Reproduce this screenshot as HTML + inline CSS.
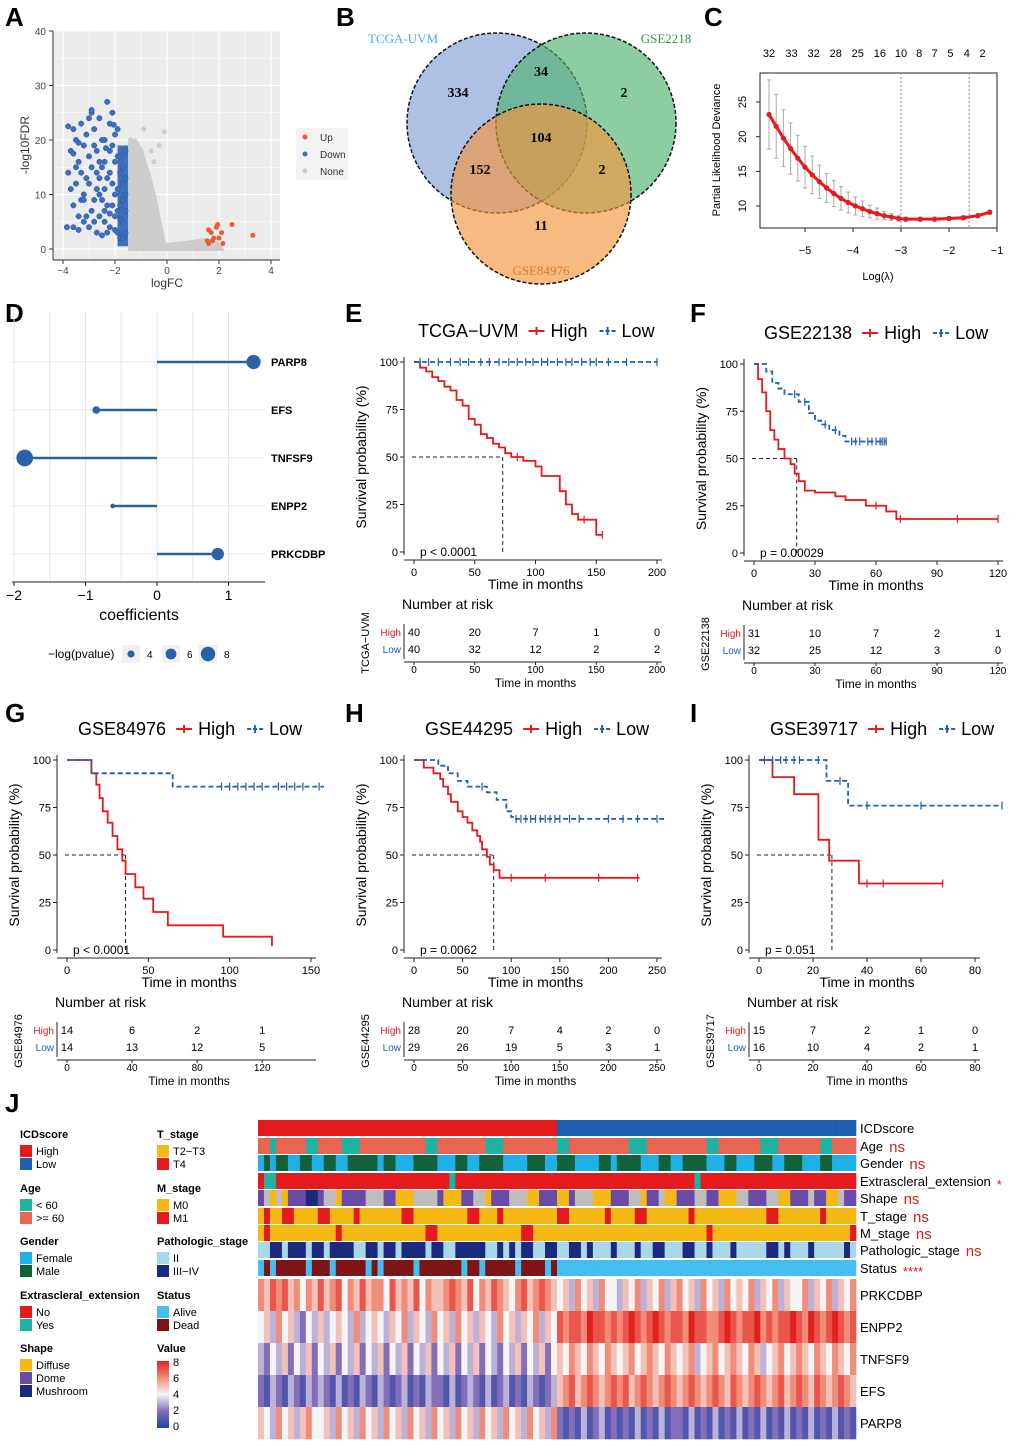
<!DOCTYPE html>
<html><head><meta charset="utf-8"><style>
body{margin:0;background:#fff}
svg{display:block;font-family:"Liberation Sans",Arial,sans-serif}
</style></head><body>
<svg id="fig" xmlns="http://www.w3.org/2000/svg" width="1020" height="1446" viewBox="0 0 1020 1446"></svg>
<script>
// ---------- DATA ----------
const volcanoDown=[[-3.7,18],[-3.6,22],[-3.5,20],[-3.4,16],[-3.3,23],[-3.2,19],[-3.1,21],[-3.0,17],[-2.9,25],[-2.8,22],[-2.7,18],[-2.6,24],[-2.5,20],[-2.4,16],[-2.3,27],[-2.2,23],[-2.1,19],[-2.0,21],[-1.9,17],[-1.8,14],[-1.7,12],[-3.6,8],[-3.4,6],[-3.2,10],[-3.0,12],[-2.8,9],[-2.6,13],[-2.4,11],[-2.2,14],[-2.0,10],[-1.8,8],[-1.7,5],[-3.0,4],[-2.8,5],[-2.6,6],[-2.4,7],[-2.2,4],[-2.0,6],[-1.9,3],[-1.8,2],[-3.8,14],[-3.5,12],[-3.3,14],[-3.1,13],[-2.9,15],[-2.7,14],[-2.5,15],[-2.3,13],[-2.1,12],[-1.9,11],[-2.5,9],[-2.3,8],[-2.1,8],[-1.9,7],[-2.7,11],[-2.9,7],[-3.1,6],[-3.3,9],[-3.5,15],[-3.7,11],[-2.2,18],[-2.4,20],[-2.0,16],[-1.8,17],[-1.7,15],[-2.6,16],[-2.8,19],[-3.0,24],[-2.1,25],[-1.9,22],[-3.85,4],[-3.6,4],[-3.4,3.5],[-3.2,5],[-2.7,3],[-2.5,2.5],[-2.3,3],[-1.6,3],[-1.6,7],[-1.6,10],[-1.6,13],[-1.6,18],[-1.7,9],[-1.7,2],[-2.05,22.8],[-2.9,25.5],[-3.8,22.5],[-3.6,17.5],[-3.4,19.5],[-3.2,9],[-2.4,5],[-2.2,6.5],[-2.0,3.5],[-1.8,5.5],[-2.6,10],[-2.35,18.5]];
const volcanoUp=[[1.6,1],[1.7,3],[1.8,2],[1.9,4],[2.0,2],[2.1,3],[1.75,1.5],[2.15,1],[3.3,2.5],[2.5,4.5],[1.55,1.5],[1.95,4.5],[1.6,3.5]];
const volcanoNoneTop=[[-1.4,20],[-1.2,19],[-0.9,22],[-0.6,18],[-0.1,21.5],[-0.3,19],[-1.0,18],[-0.5,16],[-1.3,17]];
const vennCounts=[334,34,2,104,152,2,11];
const lassoX=[-5.75,-5.6,-5.45,-5.3,-5.15,-5.0,-4.85,-4.7,-4.55,-4.4,-4.25,-4.1,-3.95,-3.8,-3.65,-3.5,-3.35,-3.2,-3.05,-2.9,-2.6,-2.3,-2.0,-1.7,-1.4,-1.15];
const lassoY=[23.2,21.5,19.8,18.3,16.9,15.6,14.5,13.5,12.6,11.8,11.1,10.5,10.0,9.6,9.2,8.9,8.6,8.4,8.2,8.1,8.1,8.1,8.2,8.3,8.6,9.1];
const lassoSE=[5.0,4.6,4.1,3.7,3.3,3.0,2.7,2.4,2.1,1.9,1.7,1.5,1.3,1.1,0.9,0.8,0.6,0.5,0.4,0.3,0.3,0.3,0.3,0.3,0.3,0.3];
const lassoTop=[32,33,32,28,25,16,10,8,7,5,4,2];
const lassoTopX=[-5.75,-5.28,-4.82,-4.36,-3.9,-3.44,-3.0,-2.62,-2.3,-1.97,-1.63,-1.3];
const genes=["PARP8","EFS","TNFSF9","ENPP2","PRKCDBP"];
const coefs=[1.35,-0.85,-1.85,-0.62,0.85];
const logp=[7.5,4,8.8,2.5,6.5];
// KM data
const E_hiT=[0,5,10,15,20,25,30,35,40,45,50,55,60,65,70,75,80,90,100,105,120,125,130,135,150,155];
const E_hiS=[100,97,95,92,90,87,85,80,77,70,67,62,60,57,55,52,50,48,45,40,32,25,20,17,9,9];
const E_loT=[0,200];const E_loS=[100,100];
const F_hiT=[0,2,4,6,8,10,12,15,18,20,22,25,30,40,45,55,65,70,120];
const F_hiS=[100,92,85,75,65,60,55,50,47,42,38,33,32,30,28,25,22,18,18];
const F_loT=[0,6,9,12,15,22,27,30,33,37,42,45,65];
const F_loS=[100,96,90,87,84,80,74,70,68,65,62,59,59];
const G_hiT=[0,15,18,20,22,25,28,31,34,36,42,47,53,62,96,126];
const G_hiS=[100,93,87,80,73,67,60,53,47,40,33,27,20,13,7,2];
const G_loT=[0,15,65,158];const G_loS=[100,93,86,86];
const H_hiT=[0,10,20,27,30,35,38,45,50,55,60,65,68,70,75,78,82,88,232];
const H_hiS=[100,96,93,90,86,82,78,73,70,67,63,60,57,53,49,45,42,38,38];
const H_loT=[0,25,35,45,55,75,85,95,100,105,260];
const H_loS=[100,97,93,89,86,83,79,73,70,69,69];
const I_hiT=[0,5,13,22,26,37,68];const I_hiS=[100,91,82,58,47,35,35];
const I_loT=[0,25,33,90];const I_loS=[100,89,76,76];
const E_risk=[[40,20,7,1,0],[40,32,12,2,2]];
const F_risk=[[31,10,7,2,1],[32,25,12,3,0]];
const G_risk=[[14,6,2,1],[14,13,12,5]];
const G_riskTicks=[0,40,80,120];
const H_risk=[[28,20,7,4,2,0],[29,26,19,5,3,1]];
const I_risk=[[15,7,2,1,0],[16,10,4,2,1]];
// heatmap annotation codes
const annICD=("1".repeat(50)+"0".repeat(50));
const annAge="1101111100111100011111111111001111111100011111111100111111111100011111111110011111110001111111001111";
const annGender="0101100110011001111101100011110001100111100001110011100001101111000110011110001100011100111000110000";
const annExtra="0110000000000000000000000000000010000000000000000000000000000000000000000100000000000000000000000000";
const annShape="1303011122133011113331100033331000113301113330011100133300011133011300111331100033111330011131100311";
const annT="0100110000110000100000001100000000011000100000000011000000100001100000001000000000000110000000100000";
const annM="0100000000000100000000000000110000000000000011000000000000000000000000000001000000000000000000000001";
const annPatho="0011011101101111001101101111011001111100101011001100110100010001001100011001000100000110100010000010";
const annStatus="0101111101110111110101111101111111011011111011110100000000000000000000000000000000000000000000000000";
const hmPRKCDBP="6576756465756746575664756574655676574657654675676545364536443546354635645364536454635463544635463546";
const hmENPP2="4536453243534543634543546354364536453543645354635476776877676787678767768776678767786767787687678767";
const hmTNFSF9="3243524352435243524352435243524352435243243524352454654654654564565465456345645654653456456546546546";
const hmEFS="2132132132321312132132123121322131232131231213212356756765676756765676567656765765676567567657656765";
const hmPARP8="5436453564453645364536453645364536453645364536453621213123121213121312213121312131213121312131213121";

// ---------- HELPERS ----------
const NS='http://www.w3.org/2000/svg';
const svg=document.getElementById('fig');
function mk(tag,attrs,name,parent){
  const el=document.createElementNS(NS,tag);
  for(const k in attrs) el.setAttribute(k,attrs[k]);
  
  
  (parent||svg).appendChild(el);return el;
}
function T(x,y,s,size,name,o){
  o=o||{};
  const a={x:x,y:y,'font-size':size,fill:o.fill||'#000'};
  if(o.anchor)a['text-anchor']=o.anchor;
  if(o.weight)a['font-weight']=o.weight;
  if(o.rot)a.transform='rotate('+o.rot+' '+x+' '+y+')';
  if(o.family)a['font-family']=o.family;
  const el=mk('text',a,name);el.textContent=s;return el;
}
function L(x1,y1,x2,y2,stroke,w,name,dash){
  const a={x1:x1,y1:y1,x2:x2,y2:y2,stroke:stroke,'stroke-width':w};
  if(dash)a['stroke-dasharray']=dash;
  return mk('line',a,name);
}
function panelLetter(x,y,s){T(x,y,s,26,'panel-label-'+s.toLowerCase(),{weight:'bold'});}

// ---------- A: volcano ----------
panelLetter(5,26,'A');
(function(){
  const sx=v=>167+v*26, sy=v=>249-v*5.45;
  mk('rect',{x:53,y:31,width:227,height:229,fill:'#ebebeb'},'volcano-panel-bg');
  [-4,-3,-2,-1,0,1,2,3,4].forEach(v=>L(sx(v),31,sx(v),260,'#fff',v%2?0.5:1,'x-grid'));
  [0,5,10,15,20,25,30,35,40].forEach(v=>L(53,sy(v),280,sy(v),'#fff',v%10?0.5:1,'y-grid'));
  mk('path',{d:'M128,250 L128,142 L136,138 L142,148 L150,172 L156,195 L161,220 L166,243 L185,241 L205,238 L218,241 L225,251 L128,251 Z',fill:'#cdcdcd'},'none-points-cloud');
  volcanoNoneTop.forEach(p=>mk('circle',{cx:sx(p[0]),cy:sy(p[1]),r:2.5,fill:'#cdcdcd'},'none-point'));
  mk('rect',{x:sx(-1.9),y:sy(19),width:sx(-1.5)-sx(-1.9),height:sy(0.5)-sy(19),fill:'#3f6fbf'},'down-points-dense');
  volcanoDown.forEach(p=>mk('circle',{cx:sx(p[0]),cy:sy(p[1]),r:2.7,fill:'#3d6ebf',stroke:'#2454a4','stroke-width':0.5},'down-point'));
  volcanoUp.forEach(p=>mk('circle',{cx:sx(p[0]),cy:sy(p[1]),r:2.5,fill:'#ee5a32'},'up-point'));
  L(53,31,53,260,'#333',1,'y-axis');L(53,260,280,260,'#333',1,'x-axis');
  [0,10,20,30,40].forEach(v=>{L(49,sy(v),53,sy(v),'#333',1,'y-tick');T(46,sy(v)+4,String(v),10,'y-tick-label',{anchor:'end',fill:'#444'});});
  [-4,-2,0,2,4].forEach(v=>{L(sx(v),260,sx(v),264,'#333',1,'x-tick');T(sx(v),274,v<0?'−'+(-v):String(v),10,'x-tick-label',{anchor:'middle',fill:'#444'});});
  T(167,287,'logFC',12,'x-axis-title',{anchor:'middle',fill:'#333'});
  T(29,145,'-log10FDR',12,'y-axis-title',{anchor:'middle',rot:-90,fill:'#333'});
  mk('rect',{x:296,y:128,width:52,height:52,fill:'#f2f2f2'},'legend-bg');
  [['Up','#ee5a32',137],['Down','#3d6ebf',154],['None','#cdcdcd',171]].forEach(l=>{
    mk('circle',{cx:305,cy:l[2],r:2.5,fill:l[1]},'legend-dot');
    T(320,l[2]+4,l[0],10,'legend-entry',{fill:'#333'});});
})();

// ---------- B: venn ----------
panelLetter(336,26,'B');
(function(){
  mk('circle',{cx:497,cy:123,r:90,fill:'#7f9fd6','fill-opacity':0.65,stroke:'#111','stroke-width':1.5,'stroke-dasharray':'4,2'},'venn-tcga-uvm');
  mk('circle',{cx:586,cy:123,r:90,fill:'#4fb26e','fill-opacity':0.65,stroke:'#111','stroke-width':1.5,'stroke-dasharray':'4,2'},'venn-gse2218');
  mk('circle',{cx:541,cy:194,r:90,fill:'#f2953e','fill-opacity':0.65,stroke:'#111','stroke-width':1.5,'stroke-dasharray':'4,2'},'venn-gse84976');
  const pos=[[458,97],[541,76],[624,97],[541,142],[480,174],[602,174],[541,230]];
  vennCounts.forEach((c,i)=>T(pos[i][0],pos[i][1],String(c),14,'venn-count',{anchor:'middle',weight:'bold',family:'"Liberation Serif",serif'}));
  T(403,43,'TCGA-UVM',13,'venn-label-tcga',{anchor:'middle',fill:'#3fb3e6',family:'"Liberation Serif",serif'});
  T(666,43,'GSE2218',13,'venn-label-gse2218',{anchor:'middle',fill:'#2e9a4a',family:'"Liberation Serif",serif'});
  T(541,275,'GSE84976',13,'venn-label-gse84976',{anchor:'middle',fill:'#e07a22',family:'"Liberation Serif",serif'});
})();

// ---------- C: lasso ----------
panelLetter(704,26,'C');
(function(){
  const sx=v=>997+(v+1)*48, sy=v=>206-(v-10)*6.93;
  mk('rect',{x:760,y:73,width:237,height:155,fill:'none',stroke:'#222','stroke-width':1},'plot-box');
  [10,15,20,25].forEach(v=>{L(756,sy(v),760,sy(v),'#222',1,'y-tick');T(746,sy(v),String(v),11,'y-tick-label',{anchor:'middle',rot:-90});});
  [-5,-4,-3,-2,-1].forEach(v=>{L(sx(v),228,sx(v),232,'#222',1,'x-tick');T(sx(v),254,'−'+(-v),11,'x-tick-label',{anchor:'middle'});});
  lassoTop.forEach((n,i)=>T(sx(lassoTopX[i]),57,String(n),11,'top-df-label',{anchor:'middle'}));
  L(sx(-3),73,sx(-3),228,'#888',1,'lambda-min-line','2,2');
  L(sx(-1.58),73,sx(-1.58),228,'#888',1,'lambda-1se-line','2,2');
  lassoX.forEach((x,i)=>{
    L(sx(x),sy(lassoY[i]+lassoSE[i]),sx(x),sy(lassoY[i]-lassoSE[i]),'#aaa',1,'error-bar');
    L(sx(x)-2,sy(lassoY[i]+lassoSE[i]),sx(x)+2,sy(lassoY[i]+lassoSE[i]),'#aaa',1,'error-cap');
    L(sx(x)-2,sy(lassoY[i]-lassoSE[i]),sx(x)+2,sy(lassoY[i]-lassoSE[i]),'#aaa',1,'error-cap');
  });
  mk('polyline',{points:lassoX.map((x,i)=>sx(x)+','+sy(lassoY[i])).join(' '),fill:'none',stroke:'#e41a1c','stroke-width':3},'deviance-line');
  lassoX.forEach((x,i)=>mk('circle',{cx:sx(x),cy:sy(lassoY[i]),r:2.6,fill:'#e41a1c'},'deviance-point'));
  T(878,280,'Log(λ)',11,'x-axis-title',{anchor:'middle'});
  T(720,150,'Partial Likelihood Deviance',11,'y-axis-title',{anchor:'middle',rot:-90});
})();

// ---------- D: lollipop ----------
panelLetter(5,322,'D');
(function(){
  const sx=v=>157+v*71.5, rows=[362,410,458,506,554];
  [-2,-1.5,-1,-0.5,0,0.5,1].forEach(v=>L(sx(v),312,sx(v),582,'#e6e6e6',1,'x-grid'));
  rows.forEach(y=>L(12,y,265,y,'#e6e6e6',1,'y-grid'));
  L(12,582,265,582,'#222',1,'x-axis');
  [-2,-1,0,1].forEach(v=>{L(sx(v),582,sx(v),586,'#222',1,'x-tick');T(sx(v),600,v<0?'−'+(-v):String(v),14,'x-tick-label',{anchor:'middle'});});
  T(139,620,'coefficients',16,'x-axis-title',{anchor:'middle'});
  genes.forEach((g,i)=>{
    L(sx(0),rows[i],sx(coefs[i]),rows[i],'#2a62a8',2.5,'lollipop-stem-'+g.toLowerCase());
    mk('circle',{cx:sx(coefs[i]),cy:rows[i],r:logp[i]*0.95,fill:'#2a62a8'},'lollipop-head-'+g.toLowerCase());
    T(271,rows[i]+4,g,11,'gene-label',{weight:'bold'});
  });
  T(48,658,'−log(pvalue)',12,'size-legend-title');
  [[131,4],[171,6],[208,8]].forEach(l=>{
    mk('rect',{x:l[0]-9,y:645,width:18,height:18,fill:'#f0f0f0'},'size-legend-key');
    mk('circle',{cx:l[0],cy:654,r:l[1]*0.9,fill:'#2a62a8'},'size-legend-dot');
    T(l[0]+16,658,String(l[1]),10,'size-legend-label');});
})();

// ---------- KM ----------
function km(c){
  const sx=v=>c.x0+v*(c.x1-c.x0)/c.tmax, sy=v=>c.y0-v*(c.y0-c.y100)/100;
  panelLetter(c.lx,c.ly,c.letter);
  const tt=T(c.titleX,c.y100-25,c.name,18,'km-title');
  const lg=c.titleX+tt.getComputedTextLength()+10;
  L(lg,c.y100-31,lg+16,c.y100-31,'#e41a1c',2,'legend-high-symbol');L(lg+8,c.y100-35,lg+8,c.y100-27,'#e41a1c',2,'legend-high-symbol');
  const ht=T(lg+22,c.y100-25,'High',18,'legend-high');
  const lg2=lg+22+ht.getComputedTextLength()+12;
  L(lg2,c.y100-31,lg2+16,c.y100-31,'#1f5fb0',2,'legend-low-symbol','4,2');L(lg2+8,c.y100-35,lg2+8,c.y100-27,'#1f5fb0',2,'legend-low-symbol');
  T(lg2+22,c.y100-25,'Low',18,'legend-low');
  L(c.ax,c.y100-5,c.ax,c.y0+3,'#222',1,'y-axis');
  L(c.ax,c.y0+8,c.x1+5,c.y0+8,'#222',1,'x-axis');
  [0,25,50,75,100].forEach(v=>{L(c.ax-4,sy(v),c.ax,sy(v),'#222',1,'y-tick');T(c.ax-6,sy(v)+4,String(v),11,'y-tick-label',{anchor:'end'});});
  c.ticks.forEach(v=>{L(sx(v),c.y0+8,sx(v),c.y0+12,'#222',1,'x-tick');T(sx(v),c.y0+24,String(v),11,'x-tick-label',{anchor:'middle'});});
  T((c.x0+c.x1)/2,c.y0+37,'Time in months',14,'x-axis-title',{anchor:'middle'});
  T(c.ax-38,(c.y0+c.y100)/2,'Survival probability (%)',14,'y-axis-title',{anchor:'middle',rot:-90});
  L(c.ax+8,sy(50),sx(c.med),sy(50),'#222',1,'median-h-line','4,3');
  L(sx(c.med),sy(50),sx(c.med),c.y0,'#222',1,'median-v-line','4,3');
  function step(t,s,col,dash,name){
    let p=sx(t[0])+','+sy(s[0]);
    for(let i=1;i<t.length;i++){p+=' '+sx(t[i])+','+sy(s[i-1])+' '+sx(t[i])+','+sy(s[i]);}
    const a={points:p,fill:'none',stroke:col,'stroke-width':1.8};if(dash)a['stroke-dasharray']=dash;
    mk('polyline',a,name);
  }
  step(c.hiT,c.hiS,'#e41a1c',null,'high-curve');
  step(c.loT,c.loS,'#1f5fb0','5,3','low-curve');
  (c.loC||[]).forEach(t=>{let s=c.loS[0];c.loT.forEach((tt,i)=>{if(tt<=t)s=c.loS[i];});L(sx(t),sy(s)-4,sx(t),sy(s)+4,'#1f5fb0',1.2,'low-censor');});
  (c.hiC||[]).forEach(t=>{let s=c.hiS[0];c.hiT.forEach((tt,i)=>{if(tt<=t)s=c.hiS[i];});L(sx(t),sy(s)-4,sx(t),sy(s)+4,'#e41a1c',1.2,'high-censor');});
  T(c.ax+16,c.y0+4,c.p,12,'p-value');
  // risk table
  const rt=c.riskTicks||c.ticks;
  const ry=c.y0+57;
  T(c.ax-2,ry,'Number at risk',14,'risk-table-title');
  T(c.ax-3,ry+27,'High',10,'risk-high-label',{anchor:'end',fill:'#e41a1c'});
  T(c.ax-3,ry+44,'Low',10,'risk-low-label',{anchor:'end',fill:'#1f5fb0'});
  L(c.ax,ry+15,c.ax,ry+50,'#222',1,'risk-y-axis');
  L(c.ax,ry+53,c.x1+5,ry+53,'#222',1,'risk-x-axis');
  rt.forEach((v,i)=>{
    T(sx(v),ry+27,String(c.risk[0][i]),11,'risk-high-value',{anchor:'middle'});
    T(sx(v),ry+44,String(c.risk[1][i]),11,'risk-low-value',{anchor:'middle'});
    L(sx(v),ry+53,sx(v),ry+56,'#222',1,'risk-x-tick');
    T(sx(v),ry+64,String(v),10,'risk-x-tick-label',{anchor:'middle'});
  });
  T((c.x0+c.x1)/2,ry+78,'Time in months',12,'risk-x-axis-title',{anchor:'middle'});
  T(c.ax-35,ry+34,c.name,11,'risk-strata-title',{anchor:'middle',rot:-90});
}
km({letter:'E',lx:345,ly:322,name:'TCGA−UVM',titleX:418,ax:404,x0:414,x1:657,tmax:200,y0:552,y100:362,ticks:[0,50,100,150,200],hiT:E_hiT,hiS:E_hiS,loT:E_loT,loS:E_loS,loC:[5,12,20,30,38,45,55,62,70,78,85,92,98,105,110,118,125,130,138,145,150,160,175,200],hiC:[85,140,155],med:73,p:'p < 0.0001',risk:E_risk});
km({letter:'F',lx:690,ly:322,name:'GSE22138',titleX:764,ax:744,x0:754,x1:998,tmax:120,y0:553,y100:364,ticks:[0,30,60,90,120],hiT:F_hiT,hiS:F_hiS,loT:F_loT,loS:F_loS,loC:[20,25,35,40,48,50,52,56,58,60,62,63,64,65],hiC:[60,72,100,120],med:21,p:'p = 0.00029',risk:F_risk});
km({letter:'G',lx:5,ly:722,name:'GSE84976',titleX:78,ax:57,x0:67,x1:311,tmax:150,y0:950,y100:760,ticks:[0,50,100,150],riskTicks:G_riskTicks,hiT:G_hiT,hiS:G_hiS,loT:G_loT,loS:G_loS,loC:[95,100,105,110,115,120,130,135,140,145,155],med:36,p:'p < 0.0001',risk:G_risk});
km({letter:'H',lx:345,ly:722,name:'GSE44295',titleX:425,ax:404,x0:414,x1:657,tmax:250,y0:950,y100:760,ticks:[0,50,100,150,200,250],hiT:H_hiT,hiS:H_hiS,loT:H_loT,loS:H_loS,loC:[70,105,110,115,120,125,130,135,140,145,150,160,170,200,215,230,250],hiC:[100,135,190,230],med:82,p:'p = 0.0062',risk:H_risk});
km({letter:'I',lx:690,ly:722,name:'GSE39717',titleX:770,ax:749,x0:759,x1:975,tmax:80,y0:950,y100:760,ticks:[0,20,40,60,80],hiT:I_hiT,hiS:I_hiS,loT:I_loT,loS:I_loS,loC:[2,5,8,10,13,15,22,30,40,60,90],hiC:[40,46,68],med:27,p:'p = 0.051',risk:I_risk});

// ---------- J: heatmap ----------
panelLetter(5,1112,'J');
(function(){
  const x0=258,w=598,n=100,cw=w/n;
  const annRows=[
    ['ICDscore',annICD,['#1f5fb0','#e41a1c'],1120,''],
    ['Age',annAge,['#20b2a0','#ea6452'],1138,'ns'],
    ['Gender',annGender,['#1fb0e8','#12613a'],1155,'ns'],
    ['Extrascleral_extension',annExtra,['#e41a1c','#20b2a0'],1173,'*'],
    ['Shape',annShape,['#f5b914','#6a4aa8','#1a2a7a','#bdbdbd'],1190,'ns'],
    ['T_stage',annT,['#f5b914','#e41a1c'],1208,'ns'],
    ['M_stage',annM,['#f5b914','#e41a1c'],1225,'ns'],
    ['Pathologic_stage',annPatho,['#a8d8ea','#1a2a80'],1242,'ns'],
    ['Status',annStatus,['#44bdf0','#7d1518'],1260,'****']
  ];
  annRows.forEach(r=>{
    for(let i=0;i<n;i++){
      mk('rect',{x:x0+i*cw,y:r[3],width:cw+0.3,height:16,fill:r[2][+r[1][i]]},'annotation-cell-'+r[0].toLowerCase());
    }
    const lab=T(860,r[3]+13,r[0],13,'annotation-label');
    if(r[4]){
      const sx=860+lab.getComputedTextLength()+6;
      T(sx,r[3]+(r[4].startsWith('*')?16:14),r[4],r[4]==='ns'?15:13,'significance-mark',{fill:'#d42020'});
    }
  });
  function col(v){
    const stops=[[0,[33,64,160]],[2,[130,110,185]],[4,[245,245,248]],[6,[240,140,120]],[8,[228,32,30]]];
    for(let i=0;i<4;i++){if(v<=stops[i+1][0]){const t=(v-stops[i][0])/2;const a=stops[i][1],b=stops[i+1][1];return 'rgb('+a.map((c,k)=>Math.round(c+(b[k]-c)*t)).join(',')+')';}}
  }
  const hm=[['PRKCDBP',hmPRKCDBP],['ENPP2',hmENPP2],['TNFSF9',hmTNFSF9],['EFS',hmEFS],['PARP8',hmPARP8]];
  hm.forEach((r,j)=>{
    const y=1279+j*32;
    for(let i=0;i<n;i++) mk('rect',{x:x0+i*cw,y:y,width:cw+0.3,height:32.3,fill:col(+r[1][i])},'heatmap-cell-'+r[0].toLowerCase());
    T(860,y+21,r[0],13,'heatmap-row-label');
  });
  const L1=[['ICDscore',1138,[['High','#e41a1c'],['Low','#1f5fb0']]],['Age',1192,[['< 60','#20b2a0'],['>= 60','#ea6452']]],['Gender',1245,[['Female','#1fb0e8'],['Male','#12613a']]],['Extrascleral_extension',1299,[['No','#e41a1c'],['Yes','#20b2a0']]],['Shape',1352,[['Diffuse','#f5b914'],['Dome','#6a4aa8'],['Mushroom','#1a2a7a']]]];
  const L2=[['T_stage',1138,[['T2−T3','#f5b914'],['T4','#e41a1c']]],['M_stage',1192,[['M0','#f5b914'],['M1','#e41a1c']]],['Pathologic_stage',1245,[['II','#a8d8ea'],['III−IV','#1a2a80']]],['Status',1299,[['Alive','#44bdf0'],['Dead','#7d1518']]]];
  [[20,L1],[157,L2]].forEach(g=>g[1].forEach(l=>{
    T(g[0],l[1],l[0],11,'legend-title',{weight:'bold'});
    l[2].forEach((e,k)=>{
      mk('rect',{x:g[0],y:l[1]+7+k*13,width:12,height:12,fill:e[1]},'legend-swatch');
      T(g[0]+16,l[1]+17+k*13,e[0],11,'legend-entry');
    });
  }));
  T(157,1352,'Value',11,'value-legend-title',{weight:'bold'});
  const defs=mk('defs',{},'defs');
  const gr=mk('linearGradient',{id:'vg',x1:0,y1:1,x2:0,y2:0},'value-gradient',defs);
  [0,2,4,6,8].forEach(v=>mk('stop',{offset:(v/8*100)+'%','stop-color':col(v)},'gradient-stop',gr));
  mk('rect',{x:157,y:1361,width:12,height:67,fill:'url(#vg)'},'value-colorbar');
  [8,6,4,2,0].forEach((v,k)=>T(173,1366+k*16,String(v),11,'value-tick-label'));
})();
</script>
</body></html>
